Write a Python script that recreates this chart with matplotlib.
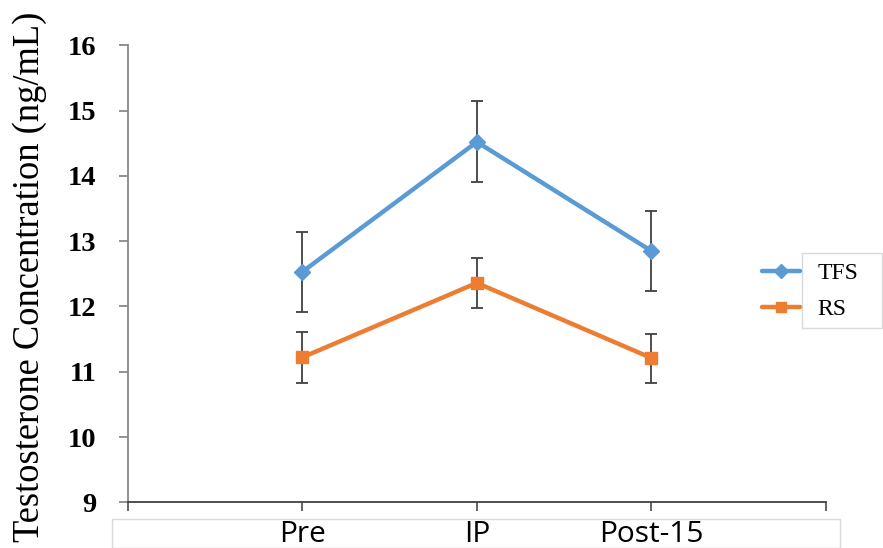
import matplotlib
matplotlib.use("Agg")
import matplotlib.pyplot as plt
from matplotlib.patches import Rectangle

categories = ["", "Pre", "IP", "Post-15", ""]
x_points = [1, 2, 3]
tfs_mean = [12.53, 14.52, 12.85]
tfs_err = [0.61, 0.62, 0.61]
rs_mean = [11.22, 12.36, 11.21]
rs_err = [0.385, 0.38, 0.375]
series_labels = ["TFS", "RS"]
yticks = [9, 10, 11, 12, 13, 14, 15, 16]

fig = plt.figure(figsize=(8.83, 5.48), dpi=100)
W, H = 883, 548
left, right, top, bottom = 127.7, 826, 45.3, 502.3
ax = fig.add_axes([left / W, 1 - bottom / H, (right - left) / W, (bottom - top) / H])

blue = "#5B9BD5"
orange = "#ED7D31"
ecol = "#404040"

ax.errorbar(x_points, tfs_mean, yerr=tfs_err, fmt="none", ecolor=ecol,
            elinewidth=1.3, capsize=4, capthick=1.3, zorder=2)
ax.errorbar(x_points, rs_mean, yerr=rs_err, fmt="none", ecolor=ecol,
            elinewidth=1.3, capsize=4, capthick=1.3, zorder=2)
l1, = ax.plot(x_points, tfs_mean, color=blue, lw=3.2, marker="D", markersize=8,
              zorder=3, solid_capstyle="round", label=series_labels[0])
l2, = ax.plot(x_points, rs_mean, color=orange, lw=3.2, marker="s", markersize=9,
              zorder=3, solid_capstyle="round", label=series_labels[1])

ax.set_xlim(0, len(categories) - 1)
ax.set_ylim(9, 16)
ax.set_yticks(yticks)
ax.set_yticklabels([str(v) for v in yticks], fontfamily="Liberation Serif",
                   fontweight="bold", fontsize=20.5)
ax.set_xticks(range(len(categories)))
ax.set_xticklabels(categories, fontfamily="Open Sans", fontsize=21.5)

for s in ["top", "right"]:
    ax.spines[s].set_visible(False)
ax.spines["left"].set_color("#898989")
ax.spines["left"].set_linewidth(1.3)
ax.spines["bottom"].set_color("#404040")
ax.spines["bottom"].set_linewidth(1.3)
ax.tick_params(axis="y", direction="out", length=6.5, width=1.3, color="#898989", pad=16)
ax.tick_params(axis="x", direction="out", length=6.5, width=1.3, color="#595959", pad=6.5)

fig.text(30 / W, 1 - 276.5 / H, "Testosterone Concentration (ng/mL)",
         rotation=90, ha="center", va="center", fontfamily="Liberation Serif",
         fontsize=26.3)

# Box around category labels
fig.patches.append(Rectangle((112 / W, 0), (840 - 112) / W, 1 - 519 / H,
                             transform=fig.transFigure, fill=False,
                             edgecolor="#D9D9D9", lw=1.0))
# Legend box (text only)
fig.patches.append(Rectangle((802 / W, 1 - 328 / H), (882 - 802) / W, (328 - 253) / H,
                             transform=fig.transFigure, fill=False,
                             edgecolor="#D9D9D9", lw=1.0))

leg = fig.legend(handles=[l1, l2], labels=series_labels, loc="center left",
                 bbox_to_anchor=(762 / W, 1 - 291.5 / H), frameon=False,
                 prop={"family": "Liberation Serif", "size": 17},
                 handlelength=1.61, handletextpad=0.75, labelspacing=0.62,
                 borderpad=0, borderaxespad=0, markerscale=0.85)

fig.savefig("out.png", dpi=100)
